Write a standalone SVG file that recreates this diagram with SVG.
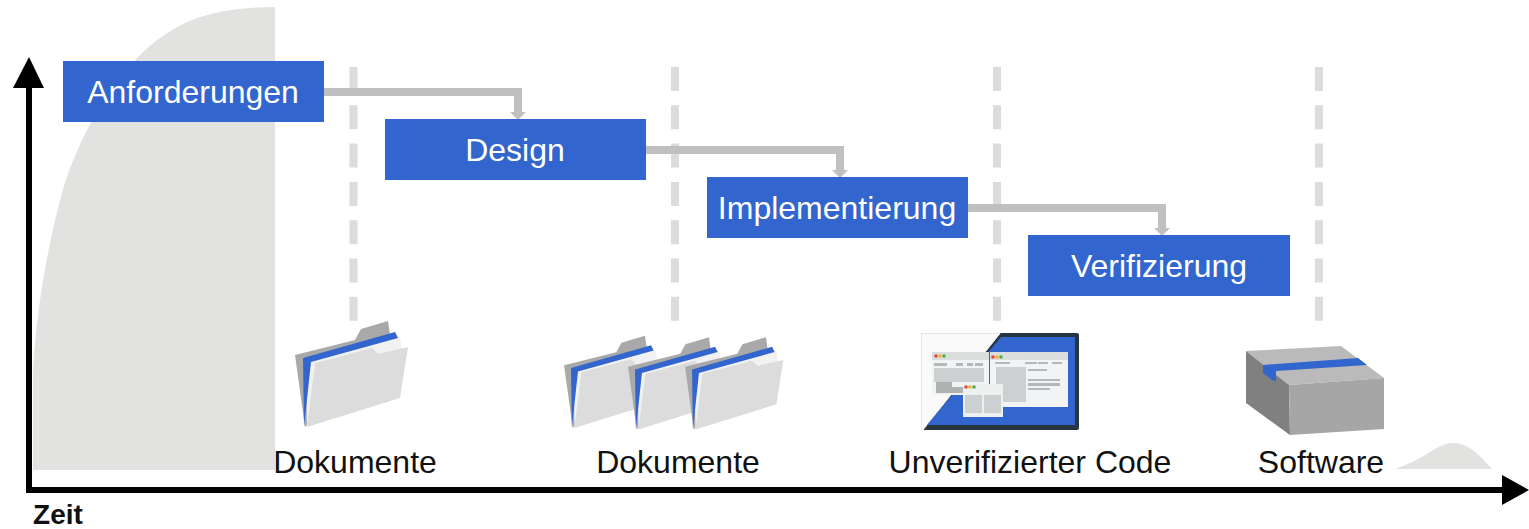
<svg xmlns="http://www.w3.org/2000/svg" width="1529" height="529" viewBox="0 0 1529 529">
<style>
text{font-family:"Liberation Sans",Arial,sans-serif;font-size:32px;fill:#111;text-anchor:middle}
.box{fill:#3265cd}
.lb{fill:#fff}
.dash{stroke:#dcdcdc;stroke-width:8;stroke-dasharray:24 14.3;fill:none}
.conn{stroke:#c0c0c0;stroke-width:8;fill:none}
.head{fill:#c0c0c0}
.back{fill:#a9a9a9}
.paper{fill:#f1f1f1}
.blue{fill:#3265cd}
.front{fill:#dcdcdc}
.bar{fill:#dcdede}
.pane{fill:#cdd0d0}
.line{fill:#b4b8b8}
.win{fill:#f1f3f4}
</style>
<defs>
<g id="folder">
<path class="back" d="M295 355L355 340L361 329L388 321L390 335L305 427Z"/>
<path class="paper" d="M306 362L400 337L402 352L360 400L307 427Z"/>
<path class="blue" d="M304 427L303 358L395 332L398 338L311 362Z"/>
<path class="front" d="M307 427L315 363L372 348L378 354L408 347L400 398Z"/>
</g>
</defs>
<g id="background">
<path fill="#e2e2e0" d="M33 470V370C37 300 50 235 65 182C85 125 110 85 143 52C158 38 175 27 192 20C215 11 245 7 275 7V470Z"/>
<path fill="#e2e2e0" d="M1395 469C1412 463 1422 457 1430 452C1438 447 1445 443 1453 443C1468 443 1480 455 1492 469Z"/>
</g>
<g id="milestones">
<path class="dash" d="M353.500 67V322M675 67V322M997 67V322M1319 67V322"/>
</g>
<g id="connectors">
<path class="conn" d="M323 92H518V112"/>
<path class="head" d="M510 112H526L518 120Z"/>
<path class="conn" d="M645 150H840V170"/>
<path class="head" d="M832 170H848L840 178Z"/>
<path class="conn" d="M967 208H1162V228"/>
<path class="head" d="M1154 228H1170L1162 236Z"/>
</g>
<g id="axes">
<path d="M29 87V490H1503" fill="none" stroke="#000" stroke-width="6"/>
<path d="M29 57L44 88H13Z"/>
<path d="M1529 490L1502 475V505Z"/>
<text x="58" y="524" style="font-size:28px;font-weight:700">Zeit</text>
</g>
<g id="anforderungen"><rect class="box" x="63" y="61" width="261" height="61"/><text x="193" y="103" class="lb" style="fill:#fff">Anforderungen</text></g>
<g id="design"><rect class="box" x="385" y="119" width="261" height="61"/><text x="515" y="161" style="fill:#fff">Design</text></g>
<g id="implementierung"><rect class="box" x="707" y="177" width="261" height="61"/><text x="837" y="219" style="fill:#fff">Implementierung</text></g>
<g id="verifizierung"><rect class="box" x="1028" y="235" width="262" height="61"/><text x="1159" y="277" style="fill:#fff">Verifizierung</text></g>
<g id="dokumente1"><use href="#folder"/><text x="355" y="473">Dokumente</text></g>
<g id="dokumente2">
<use href="#folder" transform="translate(307.400 56.500) scale(.87)"/>
<use href="#folder" transform="translate(371.400 58) scale(.87)"/>
<use href="#folder" transform="translate(428.400 58) scale(.87)"/>
<text x="678" y="473">Dokumente</text></g>
<g id="code">
<rect x="921" y="333" width="158" height="97" fill="#263540" rx="2"/>
<path fill="#fafafa" stroke="#e6e6e6" d="M921.500 333.500H1000L923 430H921.500Z"/>
<path class="blue" d="M1001 337H1075V425H927Z"/>
<rect class="win" x="932" y="352" width="57" height="43"/>
<rect class="bar" x="932" y="352" width="57" height="8"/>
<rect class="line" x="934" y="363" width="13" height="3"/><rect class="line" x="956" y="363" width="7" height="3"/><rect class="line" x="967" y="363" width="6" height="3"/><rect class="line" x="975" y="363" width="8" height="3"/>
<rect class="pane" x="934" y="368" width="50" height="14"/>
<rect fill="#aeb3b1" x="936" y="382" width="16" height="11"/><rect fill="#aeb3b1" x="952" y="387" width="11" height="6"/>
<rect class="win" x="990" y="352" width="78" height="55"/>
<rect class="bar" x="990" y="352" width="78" height="8"/>
<rect class="line" x="995" y="362" width="15" height="2"/><rect class="line" x="1025" y="362" width="12" height="2"/><rect class="line" x="1038" y="362" width="10" height="2"/><rect class="line" x="1052" y="362" width="10" height="2"/>
<rect class="pane" x="996" y="367" width="30" height="35"/>
<rect class="line" x="1028" y="369" width="19" height="2"/><rect class="line" x="1028" y="379" width="32" height="2"/><rect class="line" x="1028" y="383" width="32" height="3"/><rect class="line" x="1028" y="388" width="22" height="2"/>
<rect fill="#eef0f0" x="963" y="384" width="40" height="33"/>
<rect class="pane" x="965" y="395" width="17" height="18"/><rect class="pane" x="984" y="395" width="17" height="18"/>
<g fill="#e0483c"><circle cx="936" cy="356" r="1.800"/><circle cx="993" cy="357" r="1.800"/><circle cx="966" cy="387" r="1.800"/></g>
<g fill="#f0b429"><circle cx="940" cy="356" r="1.800"/><circle cx="997" cy="357" r="1.800"/><circle cx="970" cy="387" r="1.800"/></g>
<g fill="#4caf50"><circle cx="944" cy="356" r="1.800"/><circle cx="1001" cy="357" r="1.800"/><circle cx="974" cy="387" r="1.800"/></g>
<text x="1030" y="473">Unverifizierter Code</text></g>
<g id="software">
<path fill="#bababa" d="M1246 351L1341 346L1384 378L1289 385Z"/>
<path fill="#808080" d="M1246 351L1289 385L1290 435L1246 403Z"/>
<path fill="#a6a6a6" d="M1289 385L1384 378V429L1290 435Z"/>
<path class="blue" d="M1263 365L1358 358L1367 365L1276 371V381L1272 380L1263 373Z"/>
<text x="1321" y="473">Software</text></g>
</svg>
